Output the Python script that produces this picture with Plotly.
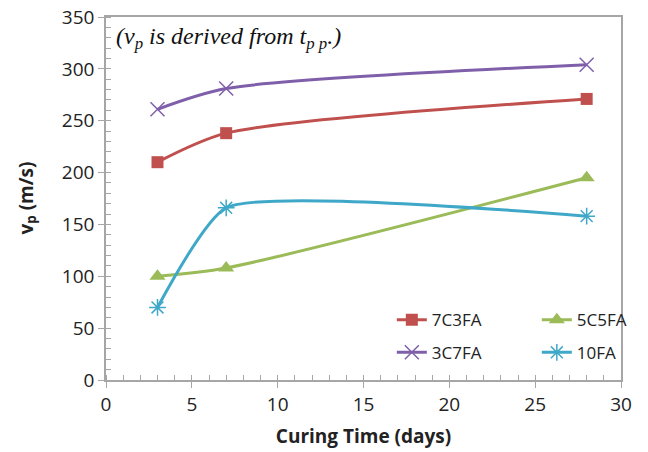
import plotly.graph_objects as go

days = [3, 7, 28]
v_7c3fa = [210, 238, 271]
v_5c5fa = [100, 108, 195]
v_3c7fa = [261, 281, 304]
v_10fa = [70, 166, 158]

series = [
    ("7C3FA", v_7c3fa, "#C0504D", dict(symbol="square", size=12, color="#C0504D"), "legend", 0.75),
    ("5C5FA", v_5c5fa, "#9BBB59", dict(symbol="triangle-up", size=14, color="#9BBB59"), "legend", 0.75),
    ("3C7FA", v_3c7fa, "#7F5FAA", dict(symbol="x-thin-open", size=14, line=dict(color="#A59CB8", width=1.5)), "legend2", 0.75),
    ("10FA", v_10fa, "#3FA8C8", dict(symbol="asterisk-open", size=14, line=dict(color="#7FCDE2", width=1.5)), "legend2", 0.5),
]

fig = go.Figure()
for name, vals, col, mk, lg, sm in series:
    fig.add_trace(go.Scatter(
        x=days, y=vals, name=name, mode="lines+markers",
        line=dict(color=col, width=3, shape="spline", smoothing=sm),
        marker=mk, legend=lg,
    ))

FONT = "Open Sans, sans-serif"
axis_common = dict(
    showline=True, linecolor="#A6A6A6", linewidth=1.5, mirror=True,
    showgrid=False, zeroline=False,
    ticks="outside", ticklen=6, tickcolor="#A6A6A6", tickwidth=1,
    tickfont=dict(family=FONT, size=19, color="#222"),
    ticklabeloverflow="allow",
)

fig.update_xaxes(
    range=[0, 30], dtick=5, tick0=0,
    minor=dict(dtick=1, ticks="inside", ticklen=5, tickcolor="#A6A6A6"),
    title=dict(text="<b>Curing Time (days)</b>", font=dict(family=FONT, size=19, color="#222"), standoff=14),
    **axis_common,
)
fig.update_yaxes(
    range=[0, 350], dtick=50, tick0=0,
    minor=dict(dtick=10, ticks="inside", ticklen=5, tickcolor="#A6A6A6"),
    **axis_common,
)

legend_common = dict(
    orientation="h", bgcolor="rgba(0,0,0,0)",
    font=dict(family=FONT, size=17, color="#222"),
    entrywidth=100, entrywidthmode="pixels", itemwidth=30,
    xanchor="left", yanchor="middle",
)

fig.update_layout(
    width=648, height=452,
    margin=dict(l=106, r=27, t=17, b=72, autoexpand=False),
    plot_bgcolor="white", paper_bgcolor="white",
    legend=dict(x=0.555, y=0.165, **legend_common),
    legend2=dict(x=0.555, y=0.075, **legend_common),
    annotations=[
        dict(
            x=0.015, y=0.99, xref="paper", yref="paper", xanchor="left", yanchor="top",
            text="<i>(v<sub>p</sub> is derived from t<sub>p p</sub>.)</i>", showarrow=False,
            font=dict(family="Liberation Serif, serif", size=24, color="#111"),
        ),
        dict(
            x=0, y=0.5, xref="paper", yref="paper", xanchor="center", yanchor="middle",
            xshift=-80, textangle=-90,
            text="<b>v<sub>p</sub> (m/s)</b>", showarrow=False,
            font=dict(family=FONT, size=19, color="#222"),
        ),
    ],
)

fig.write_html("out.html", config={"displayModeBar": False},
               post_script="document.body.style.margin='0';")
